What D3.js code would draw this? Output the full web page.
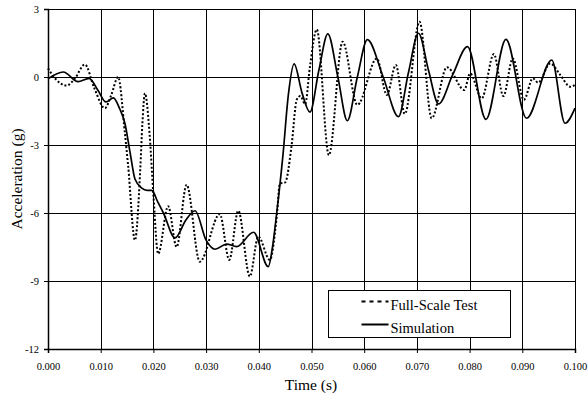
<!DOCTYPE html>
<html>
<head>
<meta charset="utf-8">
<script src="https://cdn.jsdelivr.net/npm/d3@7"></script>
<style>
  body { margin: 0; background: #fff; }
  svg text { font-family: "Liberation Serif", "Times New Roman", serif; fill: #000; }
</style>
</head>
<body>
<div id="chart"></div>
<script>
// time in ms, acceleration in g
const testTime = [0, 1.5, 3.5, 5.0, 7.0, 8.8, 10.8, 12.0, 13.3, 14.6, 15.2, 16.5, 17.5, 17.9, 18.4, 19.3, 20.0, 20.9,
  22.8, 24.4, 26.3, 28.8, 32.6, 34.4, 36.1, 38.3, 39.9, 42.1, 43.4, 44.0, 45.0, 46.2, 47.2, 47.9, 48.8,
  49.7, 51.0, 53.3, 55.9, 58.7, 62.4, 64.3, 66.0, 67.7, 70.5, 72.8, 75.7, 79.0, 80.1, 82.3, 84.6, 86.4,
  88.2, 90.3, 92.0, 93.0, 95.3, 97.2, 99.1, 100];
const testAccel = [0.38, -0.1, -0.38, -0.1, 0.55, -0.5, -1.38, -0.8, 0.0, -2.5, -3.9, -7.2, -4.1, -2.1, -0.72, -2.6, -5.2, -7.8,
  -5.7, -7.5, -4.75, -8.15, -6.05, -8.07, -5.9, -8.8, -7.04, -8.07, -6.16, -4.7, -4.65, -3.07, -1.0, -0.84, -1.2,
  0.45, 2.1, -3.45, 1.56, -1.23, 0.82, -0.79, 0.53, -1.63, 2.44, -1.82, 0.43, -0.57, 0.16, -0.94, 1.01, -0.84,
  0.82, -1.01, -0.06, -0.25, 0.6, 0.09, -0.43, -0.35];

const simTime = [0, 2.9, 5.7, 7.8, 9.5, 11.0, 12.4, 13.6, 14.6, 15.6, 16.5, 17.8, 18.8, 19.7, 20.8, 21.9, 24.1, 26.2, 27.9,
  30.0, 31.7, 33.9, 35.8, 39.0, 41.8, 42.6, 43.4, 44.6, 45.6, 46.7, 48.2, 49.7, 51.4, 53.1, 55.0, 56.8,
  58.7, 60.6, 63.6, 66.5, 68.4, 70.3, 72.2, 74.1, 76.8, 79.6, 83.1, 86.9, 90.8, 95.6, 98.1, 100];
const simAccel = [-0.08, 0.22, -0.2, -0.06, -0.6, -1.1, -0.92, -1.4, -2.05, -3.37, -4.5, -4.9, -5.0, -5.0, -5.5, -6.0, -7.1, -6.3, -5.9,
  -7.2, -7.6, -7.37, -7.48, -6.85, -8.37, -7.5, -6.0, -3.4, -0.8, 0.58, -0.7, -1.55, 0.3, 1.9, 0.0, -1.93,
  0.0, 1.65, 0.0, -1.75, 0.2, 1.93, 0.3, -1.19, 0.1, 1.34, -1.87, 1.66, -1.82, 0.75, -2.04, -1.37];

const xTicks = [0, 10, 20, 30, 40, 50, 60, 70, 80, 90, 100];
const yTicks = [-12, -9, -6, -3, 0, 3];
const seriesNames = ['Full-Scale Test', 'Simulation'];

const width = 588, height = 401;
const margin = { top: 9, right: 13, bottom: 52, left: 48 };
const innerW = width - margin.left - margin.right;
const innerH = height - margin.top - margin.bottom;

const svg = d3.select('#chart').append('svg')
  .attr('width', width)
  .attr('height', height);

const g = svg.append('g')
  .attr('transform', `translate(${margin.left},${margin.top})`);

const x = d3.scaleLinear().domain([0, 100]).range([0, innerW]);
const y = d3.scaleLinear().domain([-12, 3]).range([innerH, 0]);

// grid
g.append('g').selectAll('line').data(xTicks).join('line')
  .attr('x1', d => Math.round(x(d)) + 0.5).attr('x2', d => Math.round(x(d)) + 0.5)
  .attr('y1', 0).attr('y2', innerH)
  .attr('stroke', '#000').attr('stroke-width', 1);
g.append('g').selectAll('line').data(yTicks).join('line')
  .attr('x1', 0).attr('x2', innerW)
  .attr('y1', d => Math.round(y(d)) + 0.5).attr('y2', d => Math.round(y(d)) + 0.5)
  .attr('stroke', '#000').attr('stroke-width', 1);

// axes
const xAxis = g.append('g')
  .attr('transform', `translate(0,${innerH})`)
  .call(d3.axisBottom(x).tickValues(xTicks).tickSize(4).tickPadding(10)
    .tickFormat(d => (d / 1000).toFixed(3)));
const yAxis = g.append('g')
  .call(d3.axisLeft(y).tickValues(yTicks).tickSize(4).tickPadding(5)
    .tickFormat(d3.format('d')));
[xAxis, yAxis].forEach(a => {
  a.select('.domain').attr('stroke', '#000').attr('stroke-width', 1.5);
  a.selectAll('line').attr('stroke', '#000');
  a.selectAll('text')
    .style('font-family', '"Liberation Serif", serif')
    .style('font-size', '10.5px')
    .attr('fill', '#000');
});
yAxis.selectAll('text').text(d => d < 0 ? '-' + Math.abs(d) : d);

// lines
const line = (xs, ys) => d3.line()
  .x((d, i) => x(xs[i]))
  .y((d, i) => y(ys[i]))
  .curve(d3.curveMonotoneX)(xs);

g.append('path')
  .attr('d', line(testTime, testAccel))
  .attr('fill', 'none')
  .attr('stroke', '#000')
  .attr('stroke-width', 2)
  .attr('stroke-dasharray', '2,2');

g.append('path')
  .attr('d', line(simTime, simAccel))
  .attr('fill', 'none')
  .attr('stroke', '#000')
  .attr('stroke-width', 1.7);

// axis labels
svg.append('text')
  .attr('x', 311)
  .attr('y', 390)
  .attr('text-anchor', 'middle')
  .style('font-size', '15.5px')
  .text('Time (s)');

svg.append('text')
  .attr('transform', `translate(22,${margin.top + innerH / 2}) rotate(-90)`)
  .attr('text-anchor', 'middle')
  .style('font-size', '15.5px')
  .text('Acceleration (g)');

// legend
const legend = svg.append('g').attr('transform', 'translate(328.5,290.5)');
legend.append('rect')
  .attr('width', 182).attr('height', 47)
  .attr('fill', '#fff').attr('stroke', '#000').attr('stroke-width', 1);
seriesNames.forEach((name, i) => {
  const ly = 11 + i * 23;
  legend.append('line')
    .attr('x1', 33).attr('x2', 60).attr('y1', ly).attr('y2', ly)
    .attr('stroke', '#000')
    .attr('stroke-width', 2)
    .attr('stroke-dasharray', i === 0 ? '4,4' : null);
  legend.append('text')
    .attr('x', 62).attr('y', ly + 8)
    .style('font-size', '14.5px')
    .text(name);
});
</script>
</body>
</html>
